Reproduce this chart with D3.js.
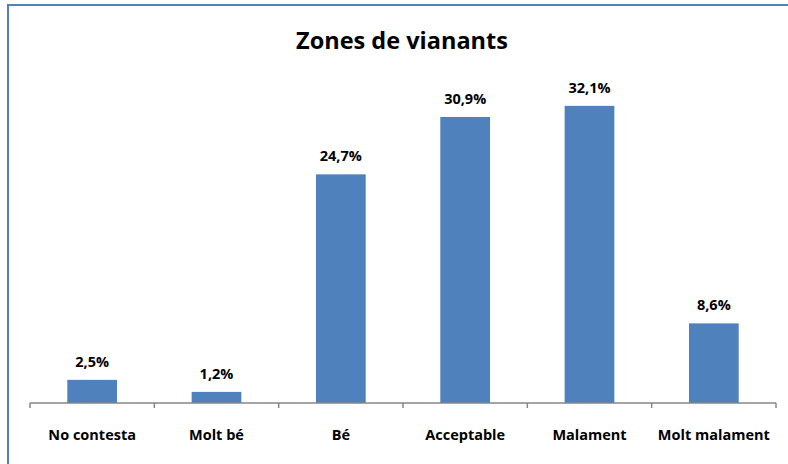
<!DOCTYPE html>
<html>
<head>
<meta charset="utf-8">
<script src="https://cdn.jsdelivr.net/npm/d3@7"></script>
<style>
  body { margin: 0; background: #fff; }
  svg { display: block; font-family: "Open Sans", "Liberation Sans", sans-serif; }
</style>
</head>
<body>
<svg id="chart"></svg>
<script>
const categories = ["No contesta", "Molt bé", "Bé", "Acceptable", "Malament", "Molt malament"];
const values = [2.5, 1.2, 24.7, 30.9, 32.1, 8.6];
const valueLabels = ["2,5%", "1,2%", "24,7%", "30,9%", "32,1%", "8,6%"];
const title = "Zones de vianants";

const width = 788, height = 464;
const svg = d3.select("#chart")
    .attr("width", width)
    .attr("height", height);

// outer frame (only top and left edges fall inside the picture)
svg.append("rect")
    .attr("x", 8)
    .attr("y", 5)
    .attr("width", 800)
    .attr("height", 500)
    .attr("fill", "#fff")
    .attr("stroke", "#4f81bd")
    .attr("stroke-width", 2);

const x = d3.scaleBand()
    .domain(categories)
    .range([30, 776])
    .paddingInner(0.6)
    .paddingOuter(0.3);

// band with no padding, for the tick marks
const xTicks = d3.scaleBand()
    .domain(categories)
    .range([30, 776]);

const y = d3.scaleLinear()
    .domain([0, 35])
    .range([403, 79]);

svg.append("text")
    .attr("x", 402)
    .attr("y", 49)
    .attr("text-anchor", "middle")
    .attr("font-size", 23.5)
    .attr("font-weight", "bold")
    .attr("fill", "#000")
    .text(title);

svg.selectAll("rect.bar")
    .data(values)
    .join("rect")
    .attr("class", "bar")
    .attr("x", (d, i) => x(categories[i]))
    .attr("width", x.bandwidth())
    .attr("y", d => y(d))
    .attr("height", d => y(0) - y(d))
    .attr("fill", "#4f81bd");

svg.selectAll("text.val")
    .data(values)
    .join("text")
    .attr("class", "val")
    .attr("x", (d, i) => x(categories[i]) + x.bandwidth() / 2)
    .attr("y", d => y(d) - 13)
    .attr("text-anchor", "middle")
    .attr("font-size", 14.5)
    .attr("font-weight", "bold")
    .attr("fill", "#000")
    .text((d, i) => valueLabels[i]);

// x axis with tick marks at band edges
const axis = svg.append("g").attr("transform", `translate(0,${y(0)})`);
axis.append("line")
    .attr("x1", 30).attr("x2", 776)
    .attr("stroke", "#868686").attr("stroke-width", 1.5);
axis.selectAll("line.tick")
    .data(categories.concat([null]))
    .join("line")
    .attr("class", "tick")
    .attr("x1", (d, i) => i < categories.length ? xTicks(d) : xTicks.range()[1])
    .attr("x2", (d, i) => i < categories.length ? xTicks(d) : xTicks.range()[1])
    .attr("y1", 0).attr("y2", 5)
    .attr("stroke", "#868686").attr("stroke-width", 1.5);

axis.selectAll("text")
    .data(categories)
    .join("text")
    .attr("x", d => xTicks(d) + xTicks.bandwidth() / 2)
    .attr("y", 37)
    .attr("text-anchor", "middle")
    .attr("font-size", 14.5)
    .attr("font-weight", "bold")
    .attr("fill", "#000")
    .text(d => d);
</script>
</body>
</html>
